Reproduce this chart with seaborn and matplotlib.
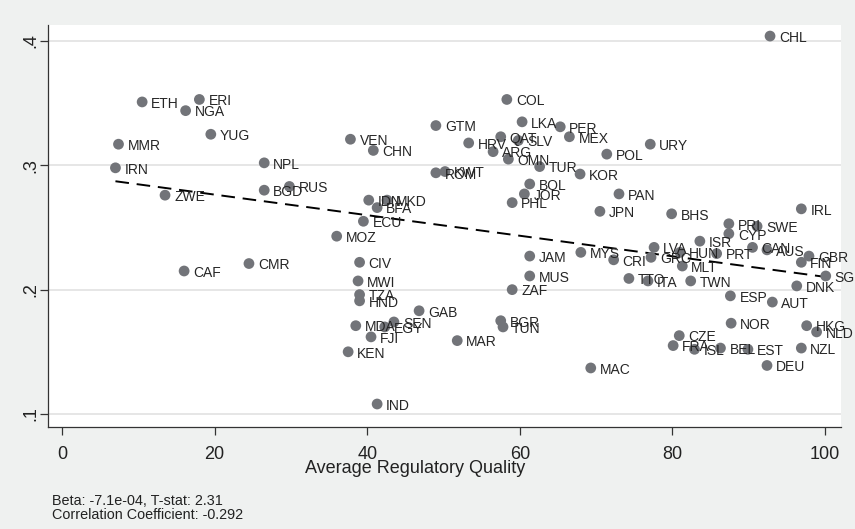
import numpy as np
import pandas as pd
import seaborn as sns
import matplotlib.pyplot as plt

# country codes, regulatory quality (x) and outcome (y)
countries = ["ETH", "ERI", "NGA", "YUG", "MMR", "IRN", "NPL", "BGD", "RUS", "ZWE",
             "CAF", "CMR", "VEN", "CHN", "GTM", "HRV", "QAT", "SLV", "ARG", "OMN",
             "LKA", "COL", "PER", "MEX", "URY", "POL", "TUR", "KOR", "ROM", "KWT",
             "BOL", "JOR", "PHL", "PAN", "JPN", "BHS", "IRL", "IDN", "BFA", "MKD",
             "ECU", "MOZ", "CIV", "MWI", "TZA", "HND", "GAB", "MDA", "SEN", "EGY",
             "FJI", "KEN", "IND", "MAR", "BGR", "TUN", "ZAF", "JAM", "MUS", "MYS",
             "CRI", "GRC", "LVA", "HUN", "MLT", "ISR", "PRI", "CYP", "SWE", "PRT",
             "CAN", "AUS", "GBR", "FIN", "SGP", "DNK", "TTO", "ITA", "TWN", "ESP",
             "AUT", "NOR", "HKG", "NLD", "CZE", "FRA", "ISL", "BEL", "EST", "NZL",
             "DEU", "MAC", "CHL"]
reg_quality = [10.5, 18.0, 16.2, 19.5, 7.4, 7.0, 26.5, 26.5, 29.8, 13.5,
               16.0, 24.5, 37.8, 40.8, 49.0, 53.3, 57.5, 59.8, 56.5, 58.5,
               60.3, 58.3, 65.3, 66.5, 77.1, 71.4, 62.6, 67.9, 49.0, 50.2,
               61.3, 60.6, 59.0, 73.0, 70.5, 79.9, 96.9, 40.2, 41.3, 42.6,
               39.5, 36.0, 39.0, 38.8, 39.0, 39.0, 46.8, 38.5, 43.5, 42.3,
               40.5, 37.5, 41.3, 51.8, 57.5, 57.8, 59.0, 61.3, 61.3, 68.0,
               72.3, 77.2, 77.6, 81.0, 81.3, 83.6, 87.4, 87.4, 91.1, 85.8,
               90.5, 92.4, 97.9, 96.9, 100.1, 96.3, 74.3, 76.8, 82.4, 87.6,
               93.1, 87.7, 97.6, 98.9, 80.9, 80.1, 82.9, 86.3, 89.9, 96.9,
               92.4, 69.3, 92.8]
outcome = [0.351, 0.353, 0.344, 0.325, 0.317, 0.298, 0.302, 0.280, 0.283, 0.276,
           0.215, 0.221, 0.321, 0.312, 0.332, 0.318, 0.323, 0.320, 0.311, 0.305,
           0.335, 0.353, 0.331, 0.323, 0.317, 0.309, 0.299, 0.293, 0.294, 0.295,
           0.285, 0.277, 0.270, 0.277, 0.263, 0.261, 0.265, 0.272, 0.266, 0.272,
           0.255, 0.243, 0.222, 0.207, 0.196, 0.191, 0.183, 0.171, 0.174, 0.170,
           0.162, 0.150, 0.108, 0.159, 0.175, 0.170, 0.200, 0.227, 0.211, 0.230,
           0.224, 0.226, 0.234, 0.230, 0.219, 0.239, 0.253, 0.245, 0.251, 0.229,
           0.234, 0.232, 0.227, 0.222, 0.211, 0.203, 0.209, 0.207, 0.207, 0.195,
           0.190, 0.173, 0.171, 0.166, 0.163, 0.155, 0.152, 0.153, 0.152, 0.153,
           0.139, 0.137, 0.404]

# fitted line as drawn in the chart (ends of the dashed line)
fit_x = [7.0, 100.1]
fit_y = [0.2872, 0.2102]

df = pd.DataFrame({"country": countries, "x": reg_quality, "y": outcome})
fit = pd.DataFrame({"x": fit_x, "y": fit_y})

sns.set_style("white")
plt.rcParams["font.family"] = ["Liberation Sans", "DejaVu Sans"]

bg = "#eff1f0"
fig = plt.figure(figsize=(8.55, 5.29), dpi=100, facecolor=bg)
ax = fig.add_axes([48 / 855, 1 - 427 / 529, 793 / 855, 402 / 529])
ax.set_facecolor("white")

for v in [0.1, 0.2, 0.3, 0.4]:
    ax.axhline(v, color="#e6e6e6", lw=1.4, zorder=0)

sns.lineplot(data=fit, x="x", y="y", ax=ax, color="black", lw=1.4,
             linestyle=(0, (7, 4)), zorder=1)
sns.scatterplot(data=df, x="x", y="y", ax=ax, color="#727479", s=60,
                edgecolor="none", zorder=2)

for c, x, y in zip(countries, reg_quality, outcome):
    ax.annotate(c, (x, y), xytext=(6.5, -1.3), textcoords="offset points",
                va="center", ha="left", fontsize=10, color="#262626", zorder=3)

ax.set_xlim(-1.84, 102.1)
ax.set_ylim(0.0895, 0.4129)
ax.set_xticks([0, 20, 40, 60, 80, 100])
ax.set_yticks([0.1, 0.2, 0.3, 0.4])
ax.set_yticklabels([".1", ".2", ".3", ".4"], rotation=90, va="center")
ax.tick_params(axis="both", direction="out", length=6, width=0.9,
               color="#333333", labelsize=13, labelcolor="#222222")
ax.tick_params(axis="x", pad=8)
ax.tick_params(axis="y", pad=0)
ax.tick_params(left=True, bottom=True)

for side in ["top", "right"]:
    ax.spines[side].set_visible(False)
for side in ["left", "bottom"]:
    ax.spines[side].set_color("#333333")
    ax.spines[side].set_linewidth(0.9)

ax.set_ylabel("")
ax.set_xlabel("Average Regulatory Quality", fontsize=13, color="#222222")
ax.xaxis.set_label_coords(0.463, -0.082)

fig.text(52 / 855, 1 - 501 / 529, "Beta: -7.1e-04, T-stat: 2.31",
         fontsize=10.4, color="#222222", va="center")
fig.text(52 / 855, 1 - 515 / 529, "Correlation Coefficient: -0.292",
         fontsize=10.4, color="#222222", va="center")

fig.savefig("out.png", dpi=100, facecolor=bg)
